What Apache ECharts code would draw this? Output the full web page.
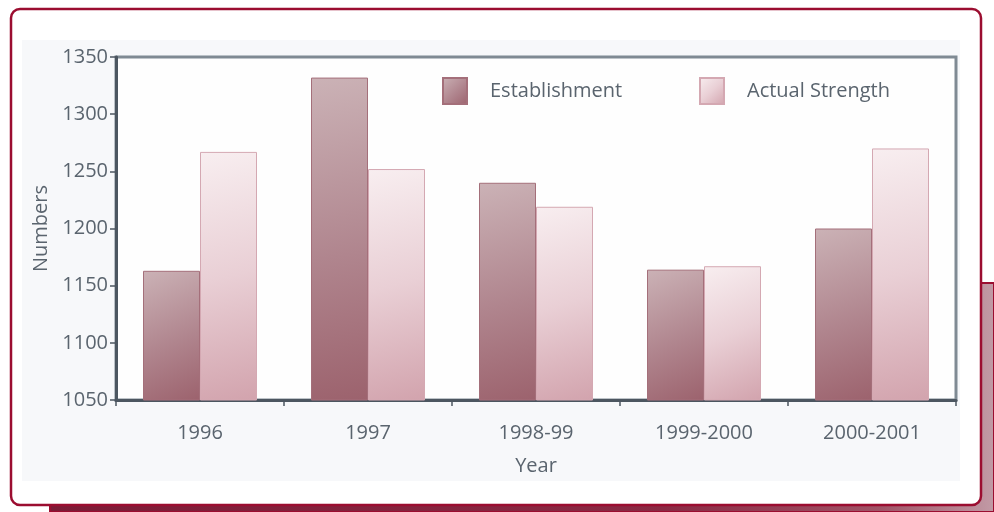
<!DOCTYPE html>
<html>
<head>
<meta charset="utf-8">
<script src="https://cdn.jsdelivr.net/npm/echarts@6/dist/echarts.min.js"></script>
<style>
html,body{margin:0;padding:0;background:#ffffff;}
#chart{width:994px;height:512px;}
</style>
</head>
<body>
<div id="chart"></div>
<script>
const categories = ['1996', '1997', '1998-99', '1999-2000', '2000-2001'];
const establishment = [1163, 1332, 1240, 1164, 1200];
const actualStrength = [1267, 1252, 1219, 1167, 1270];
const seriesNames = ['Establishment', 'Actual Strength'];
const yTicks = { min: 1050, max: 1350, interval: 50 };

const chart = echarts.init(document.getElementById('chart'), null, { renderer: 'canvas' });
const FONT = '"Open Sans", "Noto Sans", sans-serif';
const TXT = '#5a646e';

const estColor = new echarts.graphic.LinearGradient(0, 0, 1, 1, [
  { offset: 0, color: '#cbb2b6' },
  { offset: 0.55, color: '#b0858e' },
  { offset: 1, color: '#9c626d' }
]);
const actColor = new echarts.graphic.LinearGradient(0, 0, 1, 1, [
  { offset: 0, color: '#f8eef0' },
  { offset: 0.5, color: '#e9cfd5' },
  { offset: 1, color: '#d2a3ad' }
]);

const option = {
  backgroundColor: '#ffffff',
  animation: false,
  graphic: [
    {
      type: 'rect', z: -30,
      shape: { x: 50, y: 283, width: 944, height: 229 },
      style: {
        fill: new echarts.graphic.LinearGradient(0, 0, 1, 0, [
          { offset: 0, color: '#7c1b36' },
          { offset: 0.65, color: '#8a2a44' },
          { offset: 0.88, color: '#a05467' },
          { offset: 1, color: '#c29ba6' }
        ]),
        stroke: '#9b0d30', lineWidth: 2
      }
    },
    {
      type: 'rect', z: -20,
      shape: { x: 11, y: 9, width: 970, height: 496, r: 9 },
      style: { fill: '#ffffff', stroke: '#9b0d30', lineWidth: 2.5 }
    },
    {
      type: 'rect', z: -10,
      shape: { x: 22, y: 40, width: 938, height: 441 },
      style: { fill: '#f7f8fa' }
    }
  ],
  legend: [
    {
      data: [seriesNames[0]],
      left: 437, top: 72,
      itemWidth: 24, itemHeight: 26,
      icon: 'rect',
      textStyle: { color: TXT, fontSize: 20, fontFamily: FONT, padding: [0, 0, 0, 18] }
    },
    {
      data: [seriesNames[1]],
      left: 694, top: 72,
      itemWidth: 24, itemHeight: 26,
      icon: 'rect',
      textStyle: { color: TXT, fontSize: 20, fontFamily: FONT, padding: [0, 0, 0, 18] }
    }
  ],
  grid: {
    left: 116, right: 38, top: 57, bottom: 112,
    show: true, backgroundColor: '#fefefe',
    borderColor: '#7f8a93', borderWidth: 3,
    containLabel: false
  },
  xAxis: {
    type: 'category',
    data: categories,
    name: 'Year',
    nameLocation: 'middle',
    nameGap: 56,
    nameTextStyle: { color: TXT, fontSize: 20, fontFamily: FONT },
    axisLine: { lineStyle: { color: '#4c5660', width: 3 } },
    axisTick: { show: true, length: 6, lineStyle: { color: '#4c5660', width: 1.5 } },
    axisLabel: { color: TXT, fontSize: 20, fontFamily: FONT, margin: 23 }
  },
  yAxis: {
    type: 'value',
    min: yTicks.min, max: yTicks.max, interval: yTicks.interval,
    name: 'Numbers',
    nameLocation: 'middle',
    nameGap: 63,
    nameTextStyle: { color: TXT, fontSize: 20, fontFamily: FONT },
    axisLine: { show: true, lineStyle: { color: '#4c5660', width: 3 } },
    axisTick: { show: true, length: 6, lineStyle: { color: '#4c5660', width: 1.5 } },
    splitLine: { show: false },
    axisLabel: { color: TXT, fontSize: 20, fontFamily: FONT, margin: 8, formatter: v => String(v) }
  },
  series: [
    {
      name: seriesNames[0],
      type: 'bar',
      data: establishment,
      barWidth: 57,
      barGap: '0%',
      itemStyle: { color: estColor, borderColor: '#a46f7a', borderWidth: 1 }
    },
    {
      name: seriesNames[1],
      type: 'bar',
      data: actualStrength,
      barWidth: 57,
      barGap: '0%',
      itemStyle: { color: actColor, borderColor: '#d4a8b2', borderWidth: 1 }
    }
  ]
};
chart.setOption(option);
</script>
</body>
</html>
